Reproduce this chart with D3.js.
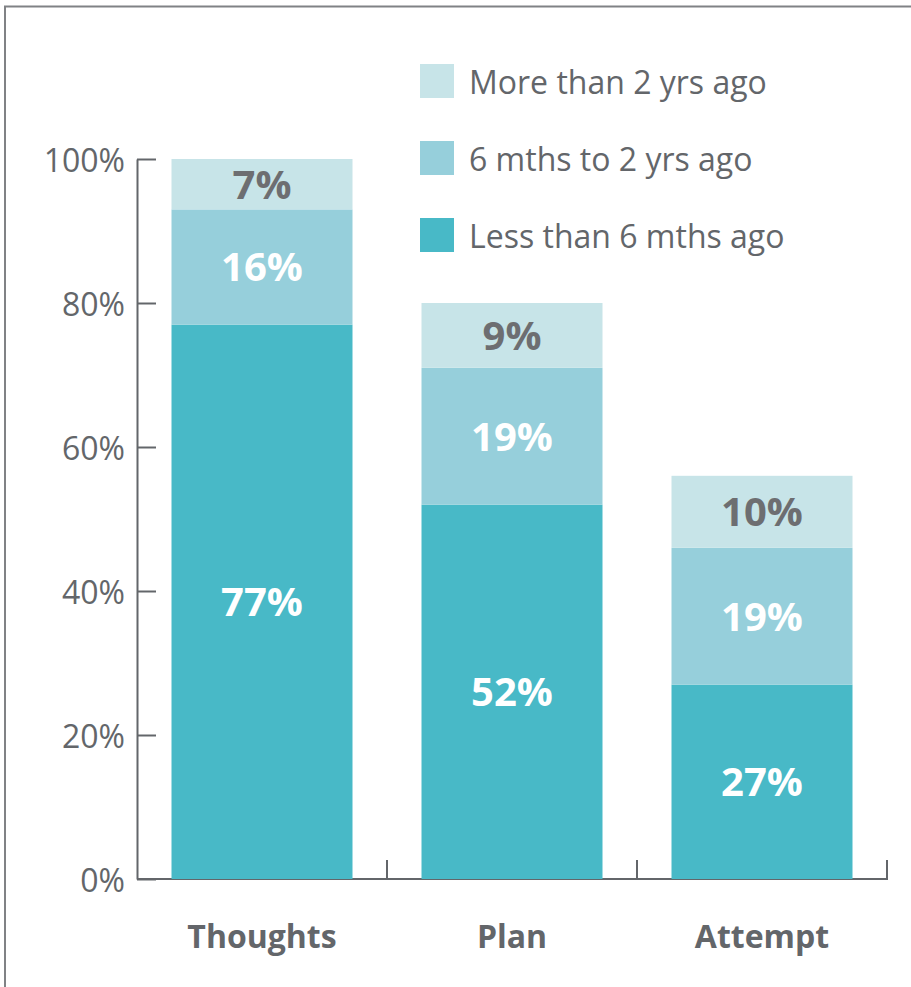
<!DOCTYPE html>
<html>
<head>
<meta charset="utf-8">
<script src="https://cdn.jsdelivr.net/npm/d3@7"></script>
<style>
  body { margin: 0; background: #fff; }
  text { font-family: "Open Sans", sans-serif; }
</style>
</head>
<body>
<div id="chart"></div>
<script>
// data
const categories = ['Thoughts', 'Plan', 'Attempt'];
const seriesNames = ['Less than 6 mths ago', '6 mths to 2 yrs ago', 'More than 2 yrs ago'];
const lessThan6m = [77, 52, 27];
const sixMto2y = [16, 19, 19];
const moreThan2y = [7, 9, 10];
const yTicks = [0, 20, 40, 60, 80, 100];

const colors = ['#48b9c7', '#96cfdb', '#c7e4e8'];
const labelColors = ['#ffffff', '#ffffff', '#6d6e71'];

const width = 911;
const height = 987;

const svg = d3.select('#chart')
  .append('svg')
  .attr('width', width)
  .attr('height', height);

// frame around the chart
svg.append('path')
  .attr('d', `M5,${height} L5,6.5 L${width},6.5`)
  .attr('fill', 'none')
  .attr('stroke', '#808285')
  .attr('stroke-width', 2);

// scales
const x = d3.scaleBand()
  .domain(categories)
  .range([137, 887])
  .paddingInner(0.276)
  .paddingOuter(0.138);

const y = d3.scaleLinear()
  .domain([0, 100])
  .range([879, 159]);

// stack the series
const rows = categories.map((c, i) => ({
  cat: c,
  s0: lessThan6m[i],
  s1: sixMto2y[i],
  s2: moreThan2y[i]
}));
const stack = d3.stack().keys(['s0', 's1', 's2']);
const layers = stack(rows);

// y axis
const axisY = d3.axisLeft(y)
  .tickValues(yTicks)
  .tickSize(-19)
  .tickSizeOuter(0)
  .tickPadding(12)
  .tickFormat(d => d + '%');

const gy = svg.append('g')
  .attr('transform', 'translate(137,0)')
  .call(axisY);
gy.select('.domain').attr('stroke', '#63666a').attr('stroke-width', 2);
gy.selectAll('.tick line').attr('stroke', '#63666a').attr('stroke-width', 2);
gy.selectAll('.tick text')
  .attr('fill', '#63666a')
  .attr('dy', '0.4em')
  .style('font-size', '32px')
  .style('font-family', '"Open Sans", sans-serif');

// x axis: baseline with ticks at category boundaries
const halfGap = (x.step() - x.bandwidth()) / 2;
const gx = svg.append('g').attr('class', 'x-axis');
gx.append('line')
  .attr('x1', x.range()[0])
  .attr('x2', x.range()[1] + 1)
  .attr('y1', y(0))
  .attr('y2', y(0))
  .attr('stroke', '#63666a')
  .attr('stroke-width', 2);
gx.selectAll('.xtick')
  .data(categories)
  .enter()
  .append('line')
  .attr('class', 'xtick')
  .attr('x1', d => x(d) + x.bandwidth() + halfGap)
  .attr('x2', d => x(d) + x.bandwidth() + halfGap)
  .attr('y1', y(0))
  .attr('y2', y(0) - 19)
  .attr('stroke', '#63666a')
  .attr('stroke-width', 2);

gx.selectAll('.xlabel')
  .data(categories)
  .enter()
  .append('text')
  .attr('class', 'xlabel')
  .attr('x', d => x(d) + x.bandwidth() / 2)
  .attr('y', 948)
  .attr('text-anchor', 'middle')
  .attr('fill', '#63666a')
  .style('font-size', '32px')
  .style('font-weight', 'bold')
  .text(d => d);

// bars
const groups = svg.selectAll('.layer')
  .data(layers)
  .enter()
  .append('g')
  .attr('class', 'layer')
  .attr('fill', (d, i) => colors[i]);

groups.selectAll('rect')
  .data(d => d)
  .enter()
  .append('rect')
  .attr('x', d => x(d.data.cat))
  .attr('y', d => y(d[1]))
  .attr('width', x.bandwidth())
  .attr('height', d => y(d[0]) - y(d[1]));

// value labels
layers.forEach((layer, i) => {
  svg.selectAll('.val' + i)
    .data(layer)
    .enter()
    .append('text')
    .attr('class', 'val' + i)
    .attr('x', d => x(d.data.cat) + x.bandwidth() / 2)
    .attr('y', d => (y(d[0]) + y(d[1])) / 2)
    .attr('dy', '0.36em')
    .attr('text-anchor', 'middle')
    .attr('fill', labelColors[i])
    .style('font-size', '40px')
    .style('font-weight', 'bold')
    .text(d => (d[1] - d[0]) + '%');
});

// legend (top entry is the top segment)
const legendOrder = [2, 1, 0];
const legend = svg.append('g').attr('class', 'legend');
const items = legend.selectAll('.item')
  .data(legendOrder)
  .enter()
  .append('g')
  .attr('class', 'item')
  .attr('transform', (d, i) => `translate(420, ${64 + i * 77})`);
items.append('rect')
  .attr('width', 34)
  .attr('height', 34)
  .attr('fill', d => colors[d]);
items.append('text')
  .attr('x', 49)
  .attr('y', 18)
  .attr('dy', '0.38em')
  .attr('fill', '#63666a')
  .style('font-size', '32px')
  .text(d => seriesNames[d]);
</script>
</body>
</html>
